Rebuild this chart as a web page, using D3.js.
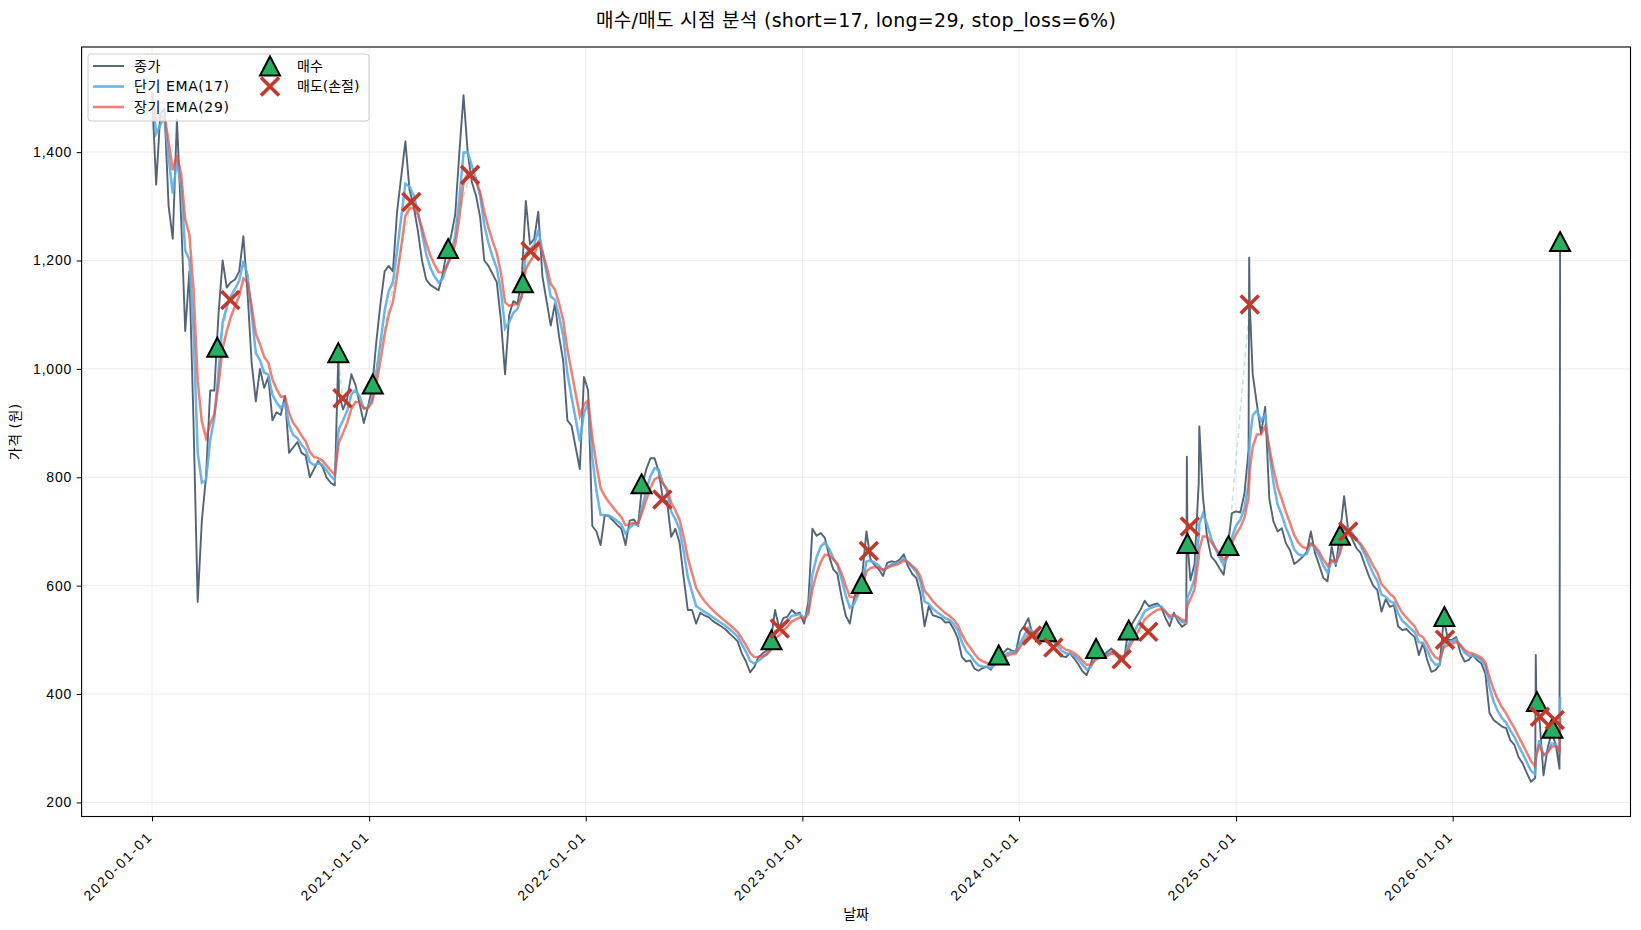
<!DOCTYPE html>
<html>
<head>
<meta charset="utf-8">
<script src="https://cdn.jsdelivr.net/npm/d3@7"></script>
<style>
  body { margin: 0; background: #fff; }
  svg { display: block; font-family: "DejaVu Sans", "Noto Sans CJK KR", sans-serif; }
</style>
</head>
<body>
<svg id="chart" width="1641" height="930"></svg>
<script>
// weekly closes from 2020-01-01, one value every 7 days
const startDate = '2020-01-01';
const stepDays = 7;
const weeklyClose = [
  1510, 1340, 1470, 1480, 1300, 1240, 1460, 1280, 1070, 1180, 900, 570, 720, 800, 960, 960,
  1100, 1200, 1150, 1160, 1165, 1180, 1245, 1140, 1010, 940, 1000, 965, 985, 905, 920, 915,
  950, 845, 855, 865, 845, 840, 800, 815, 830, 820, 800, 790, 785, 955, 925, 945,
  990, 970, 935, 900, 930, 965, 1050, 1120, 1180, 1190, 1180, 1290, 1355, 1420, 1330, 1300,
  1255, 1200, 1165, 1155, 1150, 1145, 1175, 1220, 1245, 1285, 1400, 1505, 1400, 1345, 1320, 1280,
  1200, 1190, 1175, 1160, 1090, 990, 1100, 1125, 1120, 1165, 1310, 1230, 1240, 1290, 1170, 1125,
  1080, 1120, 1060, 1015, 905, 895, 855, 815, 985, 960, 710, 700, 675, 730, 728, 720,
  712, 705, 675, 720, 722, 710, 785, 815, 835, 835, 810, 760, 755, 690, 705, 680,
  615, 555, 555, 530, 550, 545, 542, 535, 530, 525, 520, 512, 505, 497, 475, 460,
  440, 450, 468, 475, 480, 500, 555, 522, 540, 543, 555, 548, 550, 530, 570, 705,
  692, 697, 688, 655, 630, 622, 580, 545, 530, 575, 605, 620, 700, 648, 638, 630,
  618, 642, 645, 643, 648, 658, 636, 622, 614, 585, 525, 562, 545, 543, 540, 532,
  533, 520, 503, 468, 460, 462, 447, 443, 448, 450, 445, 462, 474, 476, 484, 480,
  478, 515, 525, 540, 508, 506, 512, 518, 498, 486, 478, 470, 468, 475, 466, 455,
  442, 435, 455, 482, 476, 470, 478, 484, 474, 463, 462, 516, 530, 543, 556, 572,
  562, 565, 567, 560, 540, 525, 550, 534, 524, 530, 610, 640, 790, 765, 690, 654,
  645, 632, 620, 674, 734, 737, 735, 770, 850, 990, 935, 880, 930, 760, 718, 700,
  706, 678, 665, 640, 646, 653, 662, 700, 660, 638, 614, 608, 672, 636, 695, 765,
  702, 685, 669, 660, 638, 617, 600, 592, 552, 575, 561, 564, 525, 518, 520, 512,
  505, 472, 494, 463, 441, 444, 454, 540, 500, 500, 505, 476, 460, 463, 472, 463,
  457, 438, 365, 352, 346, 340, 337, 315, 306, 284, 272, 254, 238, 245, 358, 250,
  300, 330, 305
];
// single-day extremes between the weekly points
const spikeDates = ['2020-11-10', '2024-10-10', '2024-10-11', '2024-10-31', '2025-01-23', '2025-01-24',
  '2026-05-21', '2026-05-22', '2026-06-30', '2026-07-01'];
const spikeClose = [1025, 838, 680, 894, 1205, 1119, 472, 386, 262, 1235];

const buyDates = ['2020-04-20', '2020-11-10', '2021-01-07', '2021-05-14', '2021-09-17', '2022-04-05',
  '2022-11-10', '2023-04-11', '2023-11-28', '2024-02-16', '2024-05-10', '2024-07-04', '2024-10-11',
  '2024-12-19', '2025-06-25', '2025-12-18', '2026-05-23', '2026-06-18', '2026-07-01'];
const buyPrices = [1040, 1030, 972, 1222, 1159, 788, 500, 604, 472, 515, 484, 518, 678, 674, 693, 543, 386, 337, 1235];
const sellDates = ['2020-05-12', '2020-11-17', '2021-03-13', '2021-06-20', '2021-09-30', '2022-05-10',
  '2022-11-24', '2023-04-23', '2024-01-23', '2024-02-28', '2024-06-22', '2024-08-06', '2024-10-15',
  '2025-01-24', '2025-07-09', '2025-12-19', '2026-05-28', '2026-06-22'];
const sellPrices = [1127, 946, 1308, 1358, 1217, 759, 521, 664, 508, 486, 464, 515, 709, 1119, 700, 500, 358, 352];

const shortSpan = 17;
const longSpan = 29;
const yTicks = [200, 400, 600, 800, 1000, 1200, 1400];
const yDomain = [174, 1594];

const title = '매수/매도 시점 분석 (short=17, long=29, stop_loss=6%)';
const legendLabels = ['종가', `단기 EMA(${shortSpan})`, `장기 EMA(${longSpan})`, '매수', '매도(손절)'];

const colors = { close: '#34495e', short: '#5dade2', long: '#e74c3c', buy: '#27ae60', sell: '#c0392b' };

const W = 1641, H = 930;
const margin = { top: 47, right: 10.5, bottom: 113.5, left: 81.6 };
const DAY = 864e5;
const parse = d3.utcParse('%Y-%m-%d');

const t0 = parse(startDate);
const series = weeklyClose.map((v, i) => ({ date: new Date(+t0 + i * stepDays * DAY), value: v }));
spikeDates.forEach((d, i) => series.push({ date: parse(d), value: spikeClose[i] }));
series.sort((a, b) => a.date - b.date);

// EMA over trading days; a weekly gap counts as five sessions
function ema(points, span) {
  const a = 2 / (span + 1);
  let prev = null;
  let prevDate = null;
  return points.map((p) => {
    if (prev === null) {
      prev = p.value;
    } else {
      const sessions = Math.max(1, Math.round(((p.date - prevDate) / DAY) * 5 / 7));
      prev += (1 - Math.pow(1 - a, sessions)) * (p.value - prev);
    }
    prevDate = p.date;
    return { date: p.date, value: prev };
  });
}
const emaShort = ema(series, shortSpan);
const emaLong = ema(series, longSpan);

const buys = buyDates.map((d, i) => ({ date: parse(d), value: buyPrices[i] }));
const sells = sellDates.map((d, i) => ({ date: parse(d), value: sellPrices[i] }));

const svg = d3.select('#chart');
const first = series[0].date;
const last = series[series.length - 1].date;
const pad = (last - first) * 0.05;

const x = d3.scaleUtc()
  .domain([new Date(+first - pad), new Date(+last + pad)])
  .range([margin.left, W - margin.right]);
const y = d3.scaleLinear().domain(yDomain).range([H - margin.bottom, margin.top]);

const xTicks = d3.utcYear.range(parse('2020-01-01'), parse('2026-06-01'));

// grid
const grid = svg.append('g').attr('stroke', '#b0b0b0').attr('stroke-opacity', 0.3).attr('stroke-width', 0.8);
grid.selectAll('.gx').data(xTicks).join('line')
  .attr('x1', (d) => x(d)).attr('x2', (d) => x(d))
  .attr('y1', margin.top).attr('y2', H - margin.bottom);
grid.selectAll('.gy').data(yTicks).join('line')
  .attr('x1', margin.left).attr('x2', W - margin.right)
  .attr('y1', (d) => y(d)).attr('y2', (d) => y(d));

const plot = svg.append('g');
const line = d3.line().x((d) => x(d.date)).y((d) => y(d.value));

plot.append('path').datum(series)
  .attr('fill', 'none').attr('stroke', colors.close).attr('stroke-opacity', 0.85)
  .attr('stroke-width', 1.9).attr('stroke-linejoin', 'round').attr('d', line);
plot.append('path').datum(emaShort)
  .attr('fill', 'none').attr('stroke', colors.short).attr('stroke-opacity', 0.9)
  .attr('stroke-width', 2.5).attr('d', line);
plot.append('path').datum(emaLong)
  .attr('fill', 'none').attr('stroke', colors.long).attr('stroke-opacity', 0.7)
  .attr('stroke-width', 2.5).attr('d', line);

// buy -> sell connectors
sells.forEach((s, i) => {
  const b = buys[i];
  plot.append('line')
    .attr('x1', x(b.date)).attr('y1', y(b.value))
    .attr('x2', x(s.date)).attr('y2', y(s.value))
    .attr('stroke', colors.buy).attr('stroke-opacity', 0.3)
    .attr('stroke-width', 1.5).attr('stroke-dasharray', '5,4');
});

const triPath = 'M0,-9.5L10,9.5L-10,9.5Z';
const crossPath = 'M-9,-9L9,9M-9,9L9,-9';

plot.selectAll('.buy').data(buys).join('path')
  .attr('transform', (d) => `translate(${x(d.date)},${y(d.value)})`)
  .attr('d', triPath).attr('fill', colors.buy)
  .attr('stroke', '#000').attr('stroke-width', 2).attr('stroke-linejoin', 'miter');
plot.selectAll('.sell').data(sells).join('path')
  .attr('transform', (d) => `translate(${x(d.date)},${y(d.value)})`)
  .attr('d', crossPath).attr('fill', 'none')
  .attr('stroke', colors.sell).attr('stroke-width', 3.6);

// axes
const xAxis = svg.append('g')
  .attr('transform', `translate(0,${H - margin.bottom})`)
  .call(d3.axisBottom(x).tickValues(xTicks).tickFormat(d3.utcFormat('%Y-%m-%d')).tickSizeOuter(0).tickSize(4.9));
xAxis.selectAll('text')
  .attr('font-size', 14).attr('letter-spacing', 1.9).attr('fill', '#000')
  .attr('text-anchor', 'end').attr('dy', null).attr('y', 0)
  .attr('transform', 'translate(1,21) rotate(-45)');

const yAxis = svg.append('g')
  .attr('transform', `translate(${margin.left},0)`)
  .call(d3.axisLeft(y).tickValues(yTicks).tickFormat(d3.format(',')).tickSizeOuter(0).tickSize(4.9));
yAxis.selectAll('text').attr('font-size', 14).attr('letter-spacing', 0.8).attr('fill', '#000').attr('x', -9.5);

[xAxis, yAxis].forEach((a) => {
  a.select('.domain').remove();
  a.selectAll('line').attr('stroke', '#000').attr('stroke-width', 1);
});

svg.append('rect')
  .attr('x', margin.left).attr('y', margin.top)
  .attr('width', W - margin.left - margin.right).attr('height', H - margin.top - margin.bottom)
  .attr('fill', 'none').attr('stroke', '#000').attr('stroke-width', 1.1);

// labels
svg.append('text').attr('x', (margin.left + W - margin.right) / 2).attr('y', 27)
  .attr('text-anchor', 'middle').attr('font-size', 19).attr('letter-spacing', 0.3).text(title);
svg.append('text').attr('x', (margin.left + W - margin.right) / 2).attr('y', 919)
  .attr('text-anchor', 'middle').attr('font-size', 14).text('날짜');
svg.append('text')
  .attr('transform', `translate(20,${(margin.top + H - margin.bottom) / 2}) rotate(-90)`)
  .attr('text-anchor', 'middle').attr('font-size', 14).attr('letter-spacing', 0.5).text('가격 (원)');

// legend
const legend = svg.append('g');
legend.append('rect')
  .attr('x', 88).attr('y', 54).attr('width', 281).attr('height', 67).attr('rx', 3)
  .attr('fill', '#fff').attr('fill-opacity', 0.8).attr('stroke', '#cccccc');
const lineKeys = [
  { c: colors.close, o: 0.85, w: 1.9 },
  { c: colors.short, o: 0.9, w: 2.6 },
  { c: colors.long, o: 0.7, w: 2.6 },
];
lineKeys.forEach((k, i) => {
  const ly = 66 + i * 20.5;
  legend.append('line').attr('x1', 93).attr('x2', 124).attr('y1', ly).attr('y2', ly)
    .attr('stroke', k.c).attr('stroke-opacity', k.o).attr('stroke-width', k.w);
  legend.append('text').attr('x', 134).attr('y', ly).attr('dy', '0.35em')
    .attr('font-size', 14).attr('letter-spacing', 0.6).text(legendLabels[i]);
});
legend.append('path').attr('transform', 'translate(270,66)').attr('d', triPath)
  .attr('fill', colors.buy).attr('stroke', '#000').attr('stroke-width', 2);
legend.append('path').attr('transform', 'translate(270,86.5)').attr('d', crossPath)
  .attr('fill', 'none').attr('stroke', colors.sell).attr('stroke-width', 3.6);
legend.append('text').attr('x', 297).attr('y', 66).attr('dy', '0.35em').attr('font-size', 14).text(legendLabels[3]);
legend.append('text').attr('x', 297).attr('y', 86.5).attr('dy', '0.35em').attr('font-size', 14).text(legendLabels[4]);
</script>
</body>
</html>
